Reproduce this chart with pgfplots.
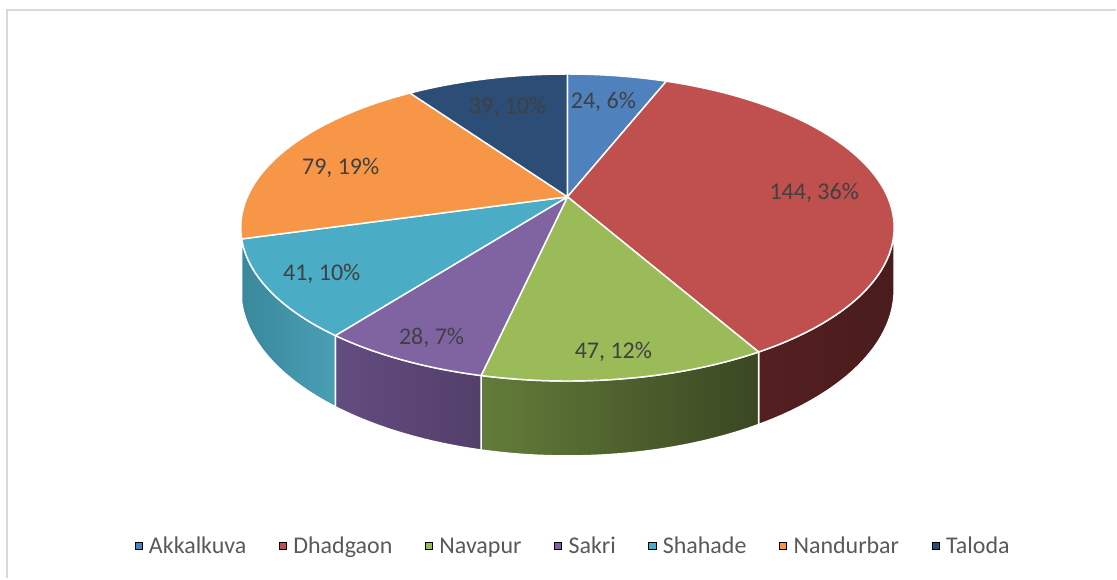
\documentclass[border=0pt]{standalone}
\usepackage{pgfplots}
\pgfplotsset{compat=1.18}
\usepackage{fontspec}
\setmainfont{Carlito}
\definecolor{akk}{HTML}{4F81BD}
\definecolor{dha}{HTML}{C0504D}
\definecolor{nav}{HTML}{9BBB59}
\definecolor{sak}{HTML}{8064A2}
\definecolor{sha}{HTML}{4BACC6}
\definecolor{nan}{HTML}{F79646}
\definecolor{tal}{HTML}{2C4D75}
\definecolor{dhaL}{HTML}{541F20}
\definecolor{dhaR}{HTML}{4A1C1D}
\definecolor{navL}{HTML}{637C39}
\definecolor{navR}{HTML}{3A4722}
\definecolor{sakL}{HTML}{634C80}
\definecolor{sakR}{HTML}{533F6A}
\definecolor{shaL}{HTML}{3A889C}
\definecolor{shaR}{HTML}{4A9FB5}
\definecolor{labtxt}{HTML}{404040}
\definecolor{legtxt}{HTML}{595959}
\definecolor{frame}{HTML}{D9D9D9}
% data
\def\vA{24}\def\vB{144}\def\vC{47}\def\vD{28}\def\vE{41}\def\vF{79}\def\vG{39}
\pgfmathsetmacro\tot{\vA+\vB+\vC+\vD+\vE+\vF+\vG}
\pgfmathsetmacro\aA{0}
\pgfmathsetmacro\aB{\aA+360*(\vA/\tot)}
\pgfmathsetmacro\aC{\aB+360*(\vB/\tot)}
\pgfmathsetmacro\aD{\aC+360*(\vC/\tot)}
\pgfmathsetmacro\aE{\aD+360*(\vD/\tot)}
\pgfmathsetmacro\aF{\aE+360*(\vE/\tot)}
\pgfmathsetmacro\aG{\aF+360*(\vF/\tot)}
\pgfmathsetmacro\aH{360}
\pgfmathsetmacro\vis{acos(-0.2)}
\newcommand\topslice[3]{\addplot[forget plot, fill=#3, draw=white, line width=1.1pt, line join=round, domain=#1:#2, samples=70, variable=\t] ({px(\t)},{py(\t,0)}) -- (568,197) -- cycle;}
\newcommand\sideslice[4]{\addplot[forget plot, draw=white, line width=1.1pt, line join=round, left color=#3, right color=#4, domain=0:3, samples=181, variable=\t] ({px(#1+(#2-#1)*(min(\t,1)-max(\t-2,0)))}, {py(#1+(#2-#1)*(min(\t,1)-max(\t-2,0)), 60*min(max(\t-1,0),1))}) -- cycle;}
\begin{document}
\begin{tikzpicture}
\begin{axis}[
  scale only axis, width=837.75pt, height=434.25pt,
  xmin=0, xmax=1117, ymin=0, ymax=579, y dir=reverse,
  hide axis, clip=false,
  declare function={
    kk(\t)=1/(1+0.2*cos(\t));
    px(\t)=568+320.4*sin(\t)*kk(\t);
    py(\t,\h)=197+(\h-147.5*cos(\t))*kk(\t);
  },
  legend columns=7,
  legend style={at={(axis cs:574,547)}, anchor=center, draw=none, fill=none,
    font=\fontsize{18}{21}\selectfont, text=legtxt,
    /tikz/every odd column/.append style={column sep=3pt},
    /tikz/every even column/.append style={column sep=22.5pt}},
  legend image code/.code={\fill[#1] (0pt,-2.0pt) rectangle (5.4pt,3.4pt);},
]
\path (0,0) rectangle (1117,579);
\draw[frame, line width=1.6pt] (7,579) -- (7,10) -- (1117,10);
% sides
\sideslice{\vis}{\aC}{dhaL}{dhaR}
\sideslice{\aC}{\aD}{navL}{navR}
\sideslice{\aD}{\aE}{sakL}{sakR}
\sideslice{\aE}{\aF}{shaL}{shaR}
% tops
\topslice{\aA}{\aB}{akk}
\topslice{\aB}{\aC}{dha}
\topslice{\aC}{\aD}{nav}
\topslice{\aD}{\aE}{sak}
\topslice{\aE}{\aF}{sha}
\topslice{\aF}{\aG}{nan}
\topslice{\aG}{\aH}{tal}
% labels
\begin{scope}[every node/.style={font=\fontsize{18}{21}\selectfont, text=labtxt}]
\node at (604,102) {\vA, 6\%};
\node at (815,193) {\vB, 36\%};
\node at (614,352) {\vC, 12\%};
\node at (432,338) {\vD, 7\%};
\node at (322,274) {\vE, 10\%};
\node at (341,168) {\vF, 19\%};
\node at (508,107) {\vG, 10\%};
\end{scope}
\addlegendimage{fill=akk}\addlegendentry{Akkalkuva}
\addlegendimage{fill=dha}\addlegendentry{Dhadgaon}
\addlegendimage{fill=nav}\addlegendentry{Navapur}
\addlegendimage{fill=sak}\addlegendentry{Sakri}
\addlegendimage{fill=sha}\addlegendentry{Shahade}
\addlegendimage{fill=nan}\addlegendentry{Nandurbar}
\addlegendimage{fill=tal}\addlegendentry{Taloda}
\end{axis}
\end{tikzpicture}
\end{document}
